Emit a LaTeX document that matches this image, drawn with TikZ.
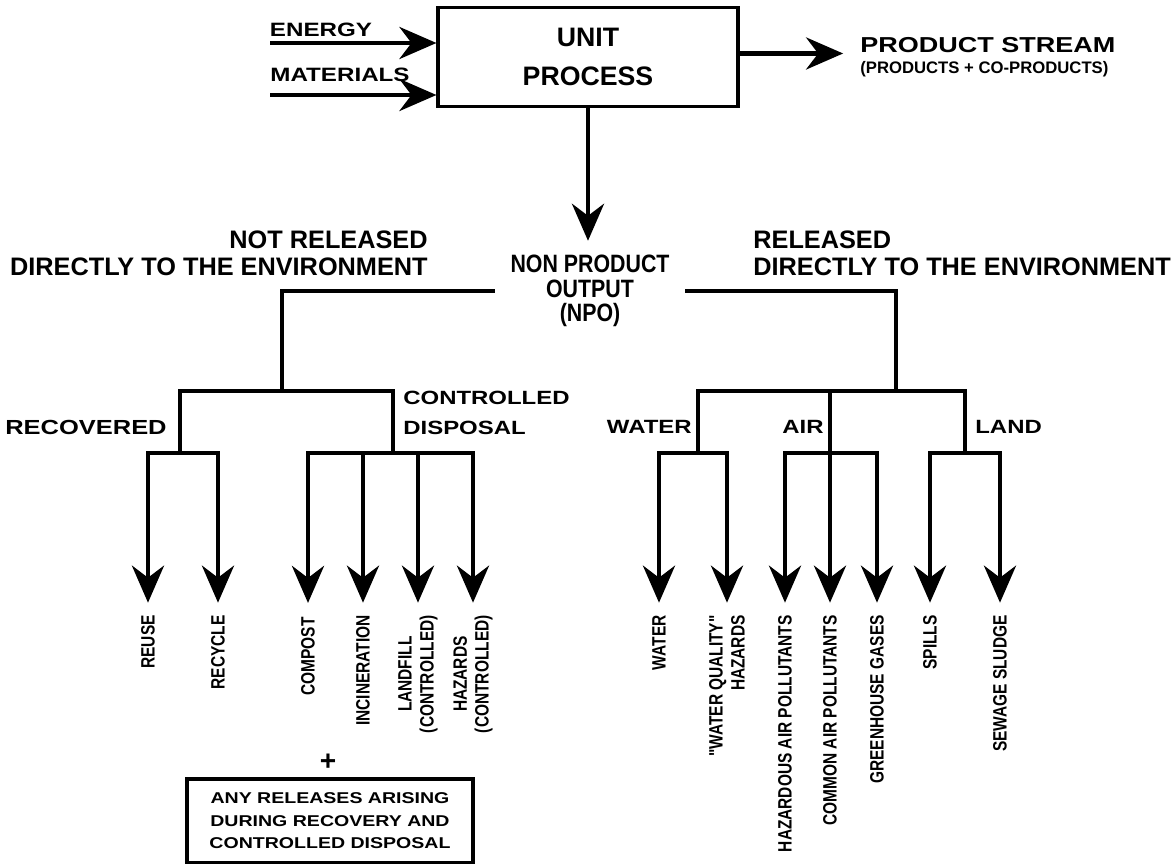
\documentclass[tikz,border=0pt]{standalone}
\usepackage{fontspec}
\setmainfont{Liberation Sans}
\newfontfamily\widesf{Liberation Sans}[FakeStretch=1.25]
\newfontfamily\narrowsf{Liberation Sans}[FakeStretch=0.85]
\newfontfamily\slimsf{Liberation Sans}[FakeStretch=0.8]
\usetikzlibrary{arrows.meta,calc}

\begin{document}
\begin{tikzpicture}[x=0.02cm, y=-0.02cm,
    box/.style={draw, line width=1.8pt, align=center, inner sep=0pt},
    arr/.style={-{Stealth[length=7.4mm, width=6.4mm, inset=2.4mm]}, line width=2.7pt},
    wire/.style={line width=2.5pt},
    inlbl/.style={font=\widesf\bfseries\fontsize{11}{13}\selectfont, inner sep=0pt},
    cat/.style={font=\widesf\bfseries\fontsize{10.9}{17}\selectfont, inner sep=0pt},
    side/.style={font=\bfseries\fontsize{14.4}{15.3}\selectfont, inner sep=0pt},
    vlbl/.style={font=\slimsf\bfseries\fontsize{11}{12.5}\selectfont,
      rotate=90, anchor=east, inner sep=0pt, align=center}
  ]
  \useasboundingbox[fill=white] (0,0) rectangle (1173,864);

  % unit process and its inputs / outputs
  \node[box, minimum width=6cm, minimum height=1.98cm,
    font=\bfseries\fontsize{15.2}{22.5}\selectfont] (unit) at (588,57) {UNIT\\PROCESS};
  \node[inlbl] (energy) at (321,30) {ENERGY};
  \node[inlbl] (materials) at (340,75) {MATERIALS};
  \coordinate (enin) at (270,43);
  \coordinate (matin) at (270,95);
  \draw[arr] (enin) -- (enin -| unit.west);
  \draw[arr] (matin) -- (matin -| unit.west);
  \node[anchor=west, align=left, inner sep=0pt, font=\fontsize{10}{12.2}\selectfont] (prod) at (860,57)
    {{\widesf\bfseries\fontsize{12.3}{12.2}\selectfont PRODUCT STREAM}\\
     {\bfseries\fontsize{9.5}{12.2}\selectfont (PRODUCTS + CO-PRODUCTS)}};
  \draw[arr, shorten >=9.6pt] ([yshift=2pt]unit.east |- prod.west) -- ([yshift=2pt]prod.west);

  % non product output
  \node[font=\narrowsf\bfseries\fontsize{14.3}{13.9}\selectfont, align=center,
    inner xsep=8.8pt, inner ysep=1pt] (npo) at (590,291) {NON PRODUCT\\OUTPUT\\(NPO)};
  \draw[arr, shorten >=7pt] (unit.south) -- (unit.south |- npo.north);
  \node[side, anchor=east, align=right] (notrel) at (428,253) {NOT RELEASED\\DIRECTLY TO THE ENVIRONMENT};
  \node[side, anchor=west, align=left] (relbl) at (753,253) {RELEASED\\DIRECTLY TO THE ENVIRONMENT};

  \coordinate (nj) at (282,391);
  \coordinate (rc) at (180,453);
  \coordinate (cd) at (393,453);
  \coordinate (rj) at (896,391);
  \coordinate (wj) at (698,453);
  \coordinate (aj) at (830,391);
  \coordinate (ab) at (830,453);
  \coordinate (lj) at (965,453);

  \draw[wire] (npo.west) -| (nj);
  \draw[wire] (npo.east) -| (rj);
  \draw[wire] (rc) -- (rc |- nj) -- (cd |- nj) -- (cd);
  \draw[wire] (wj) -- (wj |- rj) -- (lj |- rj) -- (lj);

  \node[cat, anchor=east, font=\widesf\bfseries\fontsize{11.6}{17}\selectfont] (lrec) at (167,427) {RECOVERED};
  \node[cat, anchor=west, align=left] (lcd) at (403,413) {CONTROLLED\\DISPOSAL};
  \node[cat, anchor=east] (lwat) at (692,427) {WATER};
  \node[cat, anchor=east] (lair) at (824,427) {AIR};
  \node[cat, anchor=west] (lland) at (975,427) {LAND};

  % end points, not released
  \node[vlbl] (lreuse) at (148,615) {REUSE};
  \node[vlbl] (lrecycle) at (218,615) {RECYCLE};
  \node[vlbl] (lcompost) at (308,617) {COMPOST};
  \node[vlbl] (lincin) at (363,615) {INCINERATION};
  \node[vlbl] (llandfill) at (418,615) {LANDFILL\\(CONTROLLED)};
  \node[vlbl] (lhazards) at (473,615) {HAZARDS\\(CONTROLLED)};
  \draw[arr, shorten >=7pt] (rc) -| (lreuse.east);
  \draw[arr, shorten >=7pt] (rc) -| (lrecycle.east);
  \draw[arr, shorten >=8pt] (cd) -| (lcompost.east);
  \draw[arr, shorten >=7pt] (cd) -| (lincin.east);
  \draw[arr, shorten >=7pt] (cd) -| (llandfill.east);
  \draw[arr, shorten >=7pt] (cd) -| (lhazards.east);

  % end points, released
  \node[vlbl] (lwater) at (659,615) {WATER};
  \node[vlbl, align=right] (lwq) at (727,615) {"WATER QUALITY"\\HAZARDS};
  \node[vlbl] (lhap) at (785,615) {HAZARDOUS AIR POLLUTANTS};
  \node[vlbl] (lcap) at (830,615) {COMMON AIR POLLUTANTS};
  \node[vlbl] (lghg) at (877,615) {GREENHOUSE GASES};
  \node[vlbl] (lspill) at (930,615) {SPILLS};
  \node[vlbl] (lsludge) at (1000,615) {SEWAGE SLUDGE};
  \draw[arr, shorten >=7pt] (wj) -| (lwater.east);
  \draw[arr, shorten >=7pt] (wj) -| (lwq.east);
  \draw[arr, shorten >=7pt] (ab) -| (lhap.east);
  \draw[arr, shorten >=7pt] (aj) -- (lcap.east);
  \draw[arr, shorten >=7pt] (ab) -| (lghg.east);
  \draw[arr, shorten >=7pt] (lj) -| (lspill.east);
  \draw[arr, shorten >=7pt] (lj) -| (lsludge.east);

  \node[font=\bfseries\fontsize{16}{16}\selectfont, inner sep=0pt] (plus) at (328,762) {+};
  \node[box, minimum width=5.72cm, minimum height=1.68cm,
    font=\widesf\bfseries\fontsize{8.9}{12.8}\selectfont] (anyrel) at (330,821)
    {ANY RELEASES ARISING\\DURING RECOVERY AND\\CONTROLLED DISPOSAL};
\end{tikzpicture}
\end{document}
